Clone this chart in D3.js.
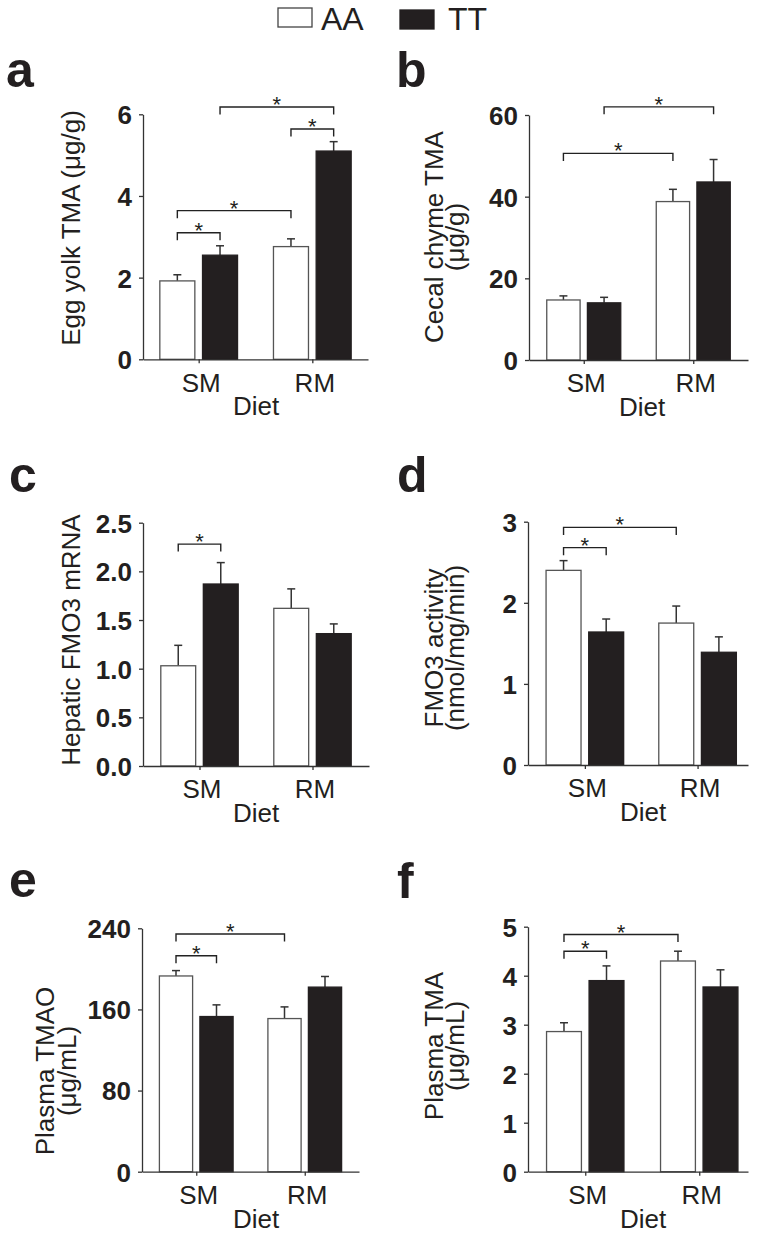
<!DOCTYPE html>
<html><head><meta charset="utf-8">
<script src="https://cdn.jsdelivr.net/npm/d3@7"></script>
<style>
body{margin:0;background:#fff;}
svg{display:block;}
text{font-family:"Liberation Sans",Arial,Helvetica,sans-serif;fill:#231f20;}
</style></head><body>
<svg id="chart" width="762" height="1237"></svg>
<script>
// ---------------- data ----------------
const diets = ["SM", "RM"];
const genotypes = ["AA", "TT"];
const legendLabels = ["AA", "TT"];
const xAxisTitle = "Diet";

// a: Egg yolk TMA
const aTicks = [0, 2, 4, 6];
const aAAmean = [1.92, 2.76];
const aAAsem = [0.15, 0.19];
const aTTmean = [2.55, 5.10];
const aTTsem = [0.23, 0.23];
const aTitle = ["Egg yolk TMA (μg/g)"];
const aBrackets = [
  {from: ["SM", "AA"], to: ["SM", "TT"], level: 3.10},
  {from: ["SM", "AA"], to: ["RM", "AA"], level: 3.64},
  {from: ["RM", "AA"], to: ["RM", "TT"], level: 5.64},
  {from: ["SM", "TT"], to: ["RM", "TT"], level: 6.18}
];

// b: Cecal chyme TMA
const bTicks = [0, 20, 40, 60];
const bAAmean = [14.7, 38.8];
const bAAsem = [1.0, 3.0];
const bTTmean = [14.0, 43.6];
const bTTsem = [1.35, 5.5];
const bTitle = ["Cecal chyme TMA", "(μg/g)"];
const bBrackets = [
  {from: ["SM", "AA"], to: ["RM", "AA"], level: 50.6},
  {from: ["SM", "TT"], to: ["RM", "TT"], level: 62.0}
];

// c: Hepatic FMO3 mRNA
const cTicks = [0, 0.5, 1.0, 1.5, 2.0, 2.5];
const cAAmean = [1.03, 1.62];
const cAAsem = [0.21, 0.20];
const cTTmean = [1.87, 1.36];
const cTTsem = [0.22, 0.10];
const cTitle = ["Hepatic FMO3 mRNA"];
const cBrackets = [
  {from: ["SM", "AA"], to: ["SM", "TT"], level: 2.28}
];

// d: FMO3 activity
const dTicks = [0, 1, 2, 3];
const dAAmean = [2.40, 1.75];
const dAAsem = [0.12, 0.21];
const dTTmean = [1.64, 1.39];
const dTTsem = [0.16, 0.19];
const dTitle = ["FMO3 activity", "(nmol/mg/min)"];
const dBrackets = [
  {from: ["SM", "AA"], to: ["SM", "TT"], level: 2.68},
  {from: ["SM", "AA"], to: ["RM", "AA"], level: 2.93}
];

// e: Plasma TMAO
const eTicks = [0, 80, 160, 240];
const eAAmean = [193, 151];
const eAAsem = [5.3, 11.5];
const eTTmean = [153, 182];
const eTTsem = [11.5, 10.5];
const eTitle = ["Plasma TMAO", "(μg/mL)"];
const eBrackets = [
  {from: ["SM", "AA"], to: ["SM", "TT"], level: 213},
  {from: ["SM", "AA"], to: ["RM", "AA"], level: 234.4}
];

// f: Plasma TMA
const fTicks = [0, 1, 2, 3, 4, 5];
const fAAmean = [2.86, 4.30];
const fAAsem = [0.18, 0.20];
const fTTmean = [3.90, 3.77];
const fTTsem = [0.30, 0.35];
const fTitle = ["Plasma TMA", "(μg/mL)"];
const fBrackets = [
  {from: ["SM", "AA"], to: ["SM", "TT"], level: 4.50},
  {from: ["SM", "AA"], to: ["RM", "AA"], level: 4.84}
];

// ---------------- layout ----------------
const panels = [
  {letter: "a", ticks: aTicks, fmt: d3.format("d"), mean: {AA: aAAmean, TT: aTTmean}, sem: {AA: aAAsem, TT: aTTsem}, title: aTitle, brackets: aBrackets,
   L: {x0: 143, x1: 368, yB: 359.3, yT: 114.3, pad: 0.49, align: 0.5, pairW: 77.7, lx: 6, ly: 87, tx: [80], tcy: 228, dietX: 256}},
  {letter: "b", ticks: bTicks, fmt: d3.format("d"), mean: {AA: bAAmean, TT: bTTmean}, sem: {AA: bAAsem, TT: bTTsem}, title: bTitle, brackets: bBrackets,
   L: {x0: 529, x1: 748, yB: 360, yT: 115, pad: 0.5, align: 0.5, pairW: 74, lx: 396, ly: 87, tx: [443, 464], tcy: 237, dietX: 642}},
  {letter: "c", ticks: cTicks, fmt: d3.format(".1f"), mean: {AA: cAAmean, TT: cTTmean}, sem: {AA: cAAsem, TT: cTTsem}, title: cTitle, brackets: cBrackets,
   L: {x0: 143, x1: 369, yB: 766, yT: 522.7, pad: 0.5, align: 0.5, pairW: 77.4, lx: 9, ly: 492, tx: [80], tcy: 640, dietX: 256}},
  {letter: "d", ticks: dTicks, fmt: d3.format("d"), mean: {AA: dAAmean, TT: dTTmean}, sem: {AA: dAAsem, TT: dTTsem}, title: dTitle, brackets: dBrackets,
   L: {x0: 528, x1: 748, yB: 765, yT: 521.7, pad: 0.476, align: 0.53, pairW: 77.6, lx: 397, ly: 492, tx: [443, 464], tcy: 648, dietX: 643}},
  {letter: "e", ticks: eTicks, fmt: d3.format("d"), mean: {AA: eAAmean, TT: eTTmean}, sem: {AA: eAAsem, TT: eTTsem}, title: eTitle, brackets: eBrackets,
   L: {x0: 142, x1: 359, yB: 1171.7, yT: 928.3, pad: 0.5, align: 0.5, pairW: 73.7, lx: 9, ly: 897, tx: [54, 76], tcy: 1071, dietX: 256}},
  {letter: "f", ticks: fTicks, fmt: d3.format("d"), mean: {AA: fAAmean, TT: fTTmean}, sem: {AA: fAAsem, TT: fTTsem}, title: fTitle, brackets: fBrackets,
   L: {x0: 528, x1: 748, yB: 1171.7, yT: 926.7, pad: 0.465, align: 0.54, pairW: 77.4, lx: 397, ly: 898, tx: [443, 464], tcy: 1046, dietX: 643}}
];

const ink = "#231f20";
const axisCol = "#333";
const svg = d3.select("#chart");

// legend
const legendLayout = [{bx: 278, by: 8, tx: 321}, {bx: 400, by: 10, tx: 448}];
legendLabels.forEach((lab, i) => {
  const l = legendLayout[i];
  svg.append("rect").attr("x", l.bx).attr("y", l.by).attr("width", 34).attr("height", 19)
    .attr("fill", lab === "AA" ? "#fff" : ink).attr("stroke", lab === "AA" ? "#444" : ink).attr("stroke-width", 1.3);
  svg.append("text").attr("x", l.tx).attr("y", 30).attr("font-size", 32).text(lab);
});

function drawPanel(p) {
  const L = p.L;
  const g = svg.append("g");
  const y = d3.scaleLinear().domain([0, d3.max(p.ticks)]).range([L.yB, L.yT]);
  const x = d3.scalePoint().domain(diets).range([L.x0, L.x1]).padding(L.pad).align(L.align);
  const xg = d3.scaleBand().domain(genotypes).range([-L.pairW / 2, L.pairW / 2]).paddingInner(0.18);
  const bw = xg.bandwidth();
  const cx = (diet, geno) => x(diet) + xg(geno) + bw / 2;

  const rows = [];
  diets.forEach((d, i) => genotypes.forEach(gt => rows.push({diet: d, geno: gt, mean: p.mean[gt][i], sem: p.sem[gt][i]})));

  // error bars (upper)
  g.selectAll("line.err").data(rows).join("line").attr("class", "err")
    .attr("x1", d => cx(d.diet, d.geno)).attr("x2", d => cx(d.diet, d.geno))
    .attr("y1", d => y(d.mean)).attr("y2", d => y(d.mean + d.sem))
    .attr("stroke", "#333").attr("stroke-width", 1.5);
  g.selectAll("line.cap").data(rows).join("line").attr("class", "cap")
    .attr("x1", d => cx(d.diet, d.geno) - 4).attr("x2", d => cx(d.diet, d.geno) + 4)
    .attr("y1", d => y(d.mean + d.sem)).attr("y2", d => y(d.mean + d.sem))
    .attr("stroke", "#333").attr("stroke-width", 1.5);

  // bars
  g.selectAll("rect.bar").data(rows).join("rect").attr("class", "bar")
    .attr("x", d => x(d.diet) + xg(d.geno)).attr("width", bw)
    .attr("y", d => y(d.mean)).attr("height", d => y(0) - y(d.mean))
    .attr("fill", d => d.geno === "AA" ? "#fff" : ink)
    .attr("stroke", d => d.geno === "AA" ? "#555" : ink).attr("stroke-width", 1.3);

  // y axis
  const yg = g.append("g").attr("transform", `translate(${L.x0},0)`)
    .call(d3.axisLeft(y).tickValues(p.ticks).tickFormat(p.fmt).tickSize(4).tickSizeOuter(0).tickPadding(7));
  yg.selectAll("text").attr("font-size", 26).attr("font-weight", "bold").attr("dy", "0.36em");
  yg.selectAll("path,line").attr("stroke", axisCol).attr("stroke-width", 1.3);

  // x axis
  const xa = g.append("g").attr("transform", `translate(0,${L.yB})`)
    .call(d3.axisBottom(x).tickSize(4).tickSizeOuter(0).tickPadding(10));
  xa.selectAll("text").attr("font-size", 26).attr("dx", 2);
  xa.selectAll("path,line").attr("stroke", axisCol).attr("stroke-width", 1.3);

  // x title
  g.append("text").attr("x", L.dietX).attr("y", L.yB + 56).attr("text-anchor", "middle")
    .attr("font-size", 26).text(xAxisTitle);

  // y title
  p.title.forEach((t, i) => {
    g.append("text").attr("transform", `translate(${L.tx[i]},${L.tcy}) rotate(-90)`)
      .attr("text-anchor", "middle").attr("font-size", 26).text(t);
  });

  // panel letter
  svg.append("text").attr("x", L.lx).attr("y", L.ly).attr("font-size", 50).attr("font-weight", "bold").text(p.letter);

  // significance brackets
  p.brackets.forEach(b => {
    const xa1 = cx(b.from[0], b.from[1]), xa2 = cx(b.to[0], b.to[1]);
    const yy = y(b.level);
    g.append("path").attr("d", `M${xa1},${yy + 7.5}V${yy}H${xa2}V${yy + 7.5}`)
      .attr("fill", "none").attr("stroke", "#222").attr("stroke-width", 1.4);
    g.append("text").attr("x", (xa1 + xa2) / 2).attr("y", yy + 5).attr("text-anchor", "middle")
      .attr("font-size", 22).text("*");
  });
}

panels.forEach(drawPanel);
</script>
</body></html>
